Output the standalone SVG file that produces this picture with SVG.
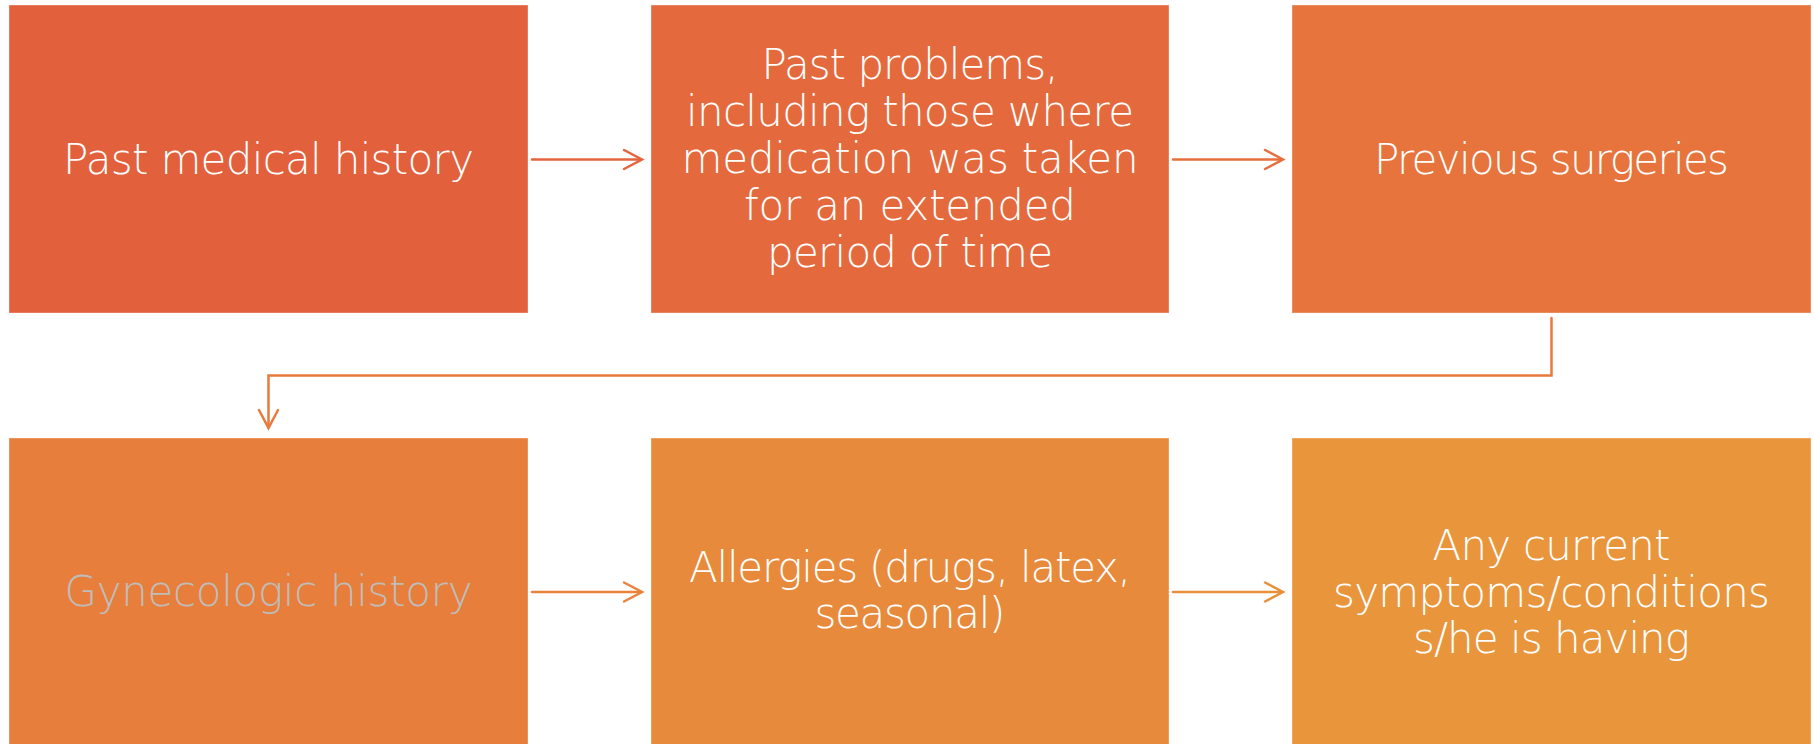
<svg xmlns="http://www.w3.org/2000/svg" width="1814" height="744" viewBox="0 0 1814 744">
  <style>
    .box { stroke: #ffffff; stroke-opacity: 0.35; stroke-width: 1; }
    .lbl { font-family: "DejaVu Sans", "Liberation Sans", sans-serif; font-weight: 200; font-size: 42px; fill: #ffffff; text-anchor: middle; }
    .muted { fill: #BFBDBA; }
    .conn { fill: none; stroke-width: 2.5; stroke-linecap: round; stroke-linejoin: miter; }
  </style>
  <rect width="1814" height="744" fill="#ffffff"/>

  <g id="node-past-medical-history">
    <rect class="box" x="9" y="5" width="519" height="308" fill="#E2603C"/>
    <text class="lbl" x="268.5" y="174" textLength="411">Past medical history</text>
  </g>

  <g id="node-past-problems">
    <rect class="box" x="651" y="5" width="518" height="308" fill="#E46A3E"/>
    <text class="lbl" x="910" y="79" textLength="297">Past problems,</text>
    <text class="lbl" x="910" y="126" textLength="448">including those where</text>
    <text class="lbl" x="910" y="173" textLength="457">medication was taken</text>
    <text class="lbl" x="910" y="220" textLength="332">for an extended</text>
    <text class="lbl" x="910" y="267" textLength="286">period of time</text>
  </g>

  <g id="node-previous-surgeries">
    <rect class="box" x="1292" y="5" width="519" height="308" fill="#E6743C"/>
    <text class="lbl" x="1551.5" y="174" textLength="355">Previous surgeries</text>
  </g>

  <g id="node-gynecologic-history">
    <rect class="box" x="9" y="438" width="519" height="310" fill="#E87E3C"/>
    <text class="lbl muted" x="268.5" y="606" textLength="408">Gynecologic history</text>
  </g>

  <g id="node-allergies">
    <rect class="box" x="651" y="438" width="518" height="310" fill="#E88A3B"/>
    <text class="lbl" x="910" y="582" textLength="442">Allergies (drugs, latex,</text>
    <text class="lbl" x="910" y="628" textLength="191">seasonal)</text>
  </g>

  <g id="node-current-symptoms">
    <rect class="box" x="1292" y="438" width="519" height="310" fill="#E9953C"/>
    <text class="lbl" x="1551.5" y="560" textLength="238">Any current</text>
    <text class="lbl" x="1551.5" y="607" textLength="437">symptoms/conditions</text>
    <text class="lbl" x="1551.5" y="653" textLength="277">s/he is having</text>
  </g>

  <g id="connectors">
    <g stroke="#E4653D" class="conn">
      <path class="conn" d="M532 159.5 H641"/>
      <path class="conn" d="M624 150 L642 159.5 L624 169"/>
    </g>
    <g stroke="#E56F3D" class="conn">
      <path class="conn" d="M1173 159.5 H1282"/>
      <path class="conn" d="M1265 150 L1283 159.5 L1265 169"/>
    </g>
    <g stroke="#E77A3C" class="conn">
      <path class="conn" d="M1551.5 318 V375.5 H268.5 V427"/>
      <path class="conn" d="M259 410 L268.5 428 L278 410"/>
    </g>
    <g stroke="#E8843B" class="conn">
      <path class="conn" d="M532 592 H641"/>
      <path class="conn" d="M624 582.5 L642 592 L624 601.5"/>
    </g>
    <g stroke="#E98F3B" class="conn">
      <path class="conn" d="M1173 592 H1282"/>
      <path class="conn" d="M1265 582.5 L1283 592 L1265 601.5"/>
    </g>
  </g>
</svg>
